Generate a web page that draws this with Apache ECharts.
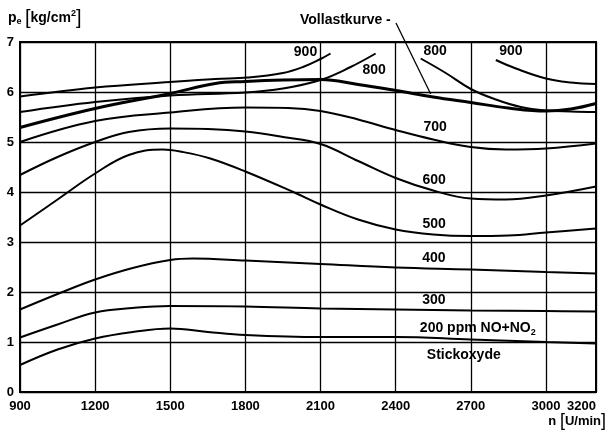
<!DOCTYPE html>
<html><head><meta charset="utf-8">
<script src="https://cdn.jsdelivr.net/npm/echarts@6/dist/echarts.min.js"></script>
<style>html,body{margin:0;padding:0;background:#fff}#c{width:609px;height:434px}</style>
</head><body><div id="c"></div>
<script>
// axis ticks
const rpmTicks = [900, 1200, 1500, 1800, 2100, 2400, 2700, 3000, 3200];
const pTicks = [0, 1, 2, 3, 4, 5, 6, 7];

// curves of constant NOx concentration [rpm, pe]
const curve900a = [[900,5.91],[1200,6.09],[1500,6.2],[1680,6.26],[1810,6.29],[1950,6.38],[2030,6.5],[2100,6.66],[2140,6.77]];
const curve900b = [[2800,6.64],[2880,6.47],[3000,6.27],[3100,6.19],[3200,6.16]];
const curve800a = [[900,5.6],[1200,5.8],[1500,5.93],[1800,5.99],[1950,6.07],[2100,6.24],[2220,6.5],[2320,6.77]];
const curve800b = [[2500,6.67],[2600,6.38],[2700,6.06],[2800,5.85],[2900,5.7],[3000,5.63],[3100,5.61],[3200,5.6]];
const vollast   = [[900,5.29],[1200,5.67],[1500,5.97],[1680,6.17],[1800,6.21],[1950,6.24],[2100,6.25],[2250,6.15],[2400,6.03],[2550,5.9],[2700,5.79],[2850,5.68],[3000,5.62],[3100,5.66],[3200,5.77]];
const curve700  = [[900,5.0],[1200,5.42],[1500,5.59],[1800,5.69],[1970,5.68],[2100,5.62],[2250,5.45],[2400,5.24],[2550,5.05],[2700,4.9],[2840,4.85],[3000,4.87],[3200,4.97]];
const curve600  = [[900,4.34],[1050,4.7],[1200,5.0],[1334,5.2],[1500,5.27],[1650,5.26],[1800,5.21],[1950,5.1],[2100,4.96],[2250,4.62],[2400,4.28],[2550,4.03],[2700,3.87],[2840,3.85],[3000,3.93],[3200,4.11]];
const curve500  = [[900,3.33],[1050,3.85],[1200,4.37],[1334,4.74],[1470,4.85],[1550,4.8],[1660,4.67],[1800,4.41],[2000,3.98],[2100,3.75],[2250,3.45],[2400,3.25],[2550,3.15],[2700,3.12],[2850,3.13],[3000,3.19],[3200,3.27]];
const curve400  = [[900,1.65],[1050,1.96],[1200,2.25],[1350,2.48],[1500,2.64],[1590,2.67],[1800,2.63],[2100,2.56],[2400,2.49],[2700,2.45],[3000,2.4],[3200,2.37]];
const curve300  = [[900,1.09],[1050,1.35],[1200,1.59],[1350,1.68],[1500,1.72],[1800,1.71],[2100,1.67],[2400,1.65],[2700,1.63],[3000,1.62],[3200,1.61]];
const curve200  = [[900,0.54],[1050,0.85],[1200,1.07],[1350,1.2],[1500,1.27],[1650,1.2],[1800,1.14],[2100,1.1],[2400,1.1],[2700,1.05],[3000,1.0],[3200,0.97]];

const FONT = 'Liberation Sans, Arial, sans-serif';
const chart = echarts.init(document.getElementById('c'), null, {renderer: 'canvas'});

function curve(name, data, width) {
  return {
    type: 'line', name: name, data: data, smooth: 0.4,
    symbol: 'none', silent: true, animation: false, z: 3, clip: false,
    lineStyle: {color: '#000', width: width || 2}
  };
}
function tag(text, x, y) {
  return {name: text, coord: [x, y]};
}
const tagStyle = {
  symbol: 'rect', symbolSize: 1, silent: true, animation: false,
  itemStyle: {color: 'rgba(0,0,0,0)'},
  label: {
    show: true, position: 'inside', formatter: '{b}', color: '#000',
    fontFamily: FONT, fontWeight: 'bold', fontSize: 14
  }
};

const sVoll = curve('Vollastkurve', vollast, 3);
sVoll.markLine = {
  silent: true, animation: false, symbol: ['none', 'arrow'], symbolSize: [0, 8],
  label: {show: false},
  lineStyle: {color: '#000', width: 1.3, type: 'solid'},
  data: [[{x: 396, y: 23}, {coord: [2540, 5.96]}]]
};
const sLabels = curve('labels', curve200, 2);
sLabels.markPoint = Object.assign({}, tagStyle, {
  data: [
    tag('900', 2040, 6.8), tag('800', 2314, 6.44), tag('800', 2558, 6.82), tag('900', 2860, 6.82),
    tag('700', 2558, 5.29), tag('600', 2554, 4.24), tag('500', 2554, 3.35),
    tag('400', 2553, 2.67), tag('300', 2553, 1.83), tag('Stickoxyde', 2672, 0.73),
    {name: '200 ppm NO+NO', coord: [2728, 1.27],
      label: {formatter: '{a|200 ppm NO+NO}{s|2}', rich: {
        a: {fontFamily: FONT, fontWeight: 'bold', fontSize: 14, color: '#000'},
        s: {fontFamily: FONT, fontWeight: 'bold', fontSize: 9, color: '#000', padding: [8, 0, 0, 0]}
      }}}
  ]
});

chart.setOption({
  backgroundColor: '#fff',
  animation: false,
  grid: {left: 20, right: 13, top: 42, bottom: 42, show: true, borderColor: '#000', borderWidth: 2},
  xAxis: {
    type: 'value', min: rpmTicks[0], max: rpmTicks[rpmTicks.length - 1], interval: 300,
    axisLine: {show: false}, axisTick: {show: false},
    splitLine: {show: true, lineStyle: {color: '#000', width: 1.3}},
    axisLabel: {color: '#000', fontFamily: FONT, fontWeight: 'bold', fontSize: 13, margin: 8,
      formatter: function (v) { return String(v); },
      customValues: rpmTicks, alignMaxLabel: 'right'}
  },
  yAxis: {
    type: 'value', min: pTicks[0], max: pTicks[pTicks.length - 1], interval: 1,
    axisLine: {show: false}, axisTick: {show: false},
    splitLine: {show: true, lineStyle: {color: '#000', width: 1.3}},
    axisLabel: {color: '#000', fontFamily: FONT, fontWeight: 'bold', fontSize: 13, margin: 6}
  },
  graphic: [
    {type: 'text', left: 8, top: 8, silent: true, style: {
      text: '{p|p}{e|e} {br|[}{t|kg/cm}{sup|2}{br|]}',
      rich: {
        p: {fontFamily: FONT, fontWeight: 'bold', fontSize: 14, fill: '#000'},
        e: {fontFamily: FONT, fontWeight: 'bold', fontSize: 9, fill: '#000', padding: [8, 0, 0, 0]},
        br: {fontFamily: FONT, fontSize: 20, fill: '#000'},
        t: {fontFamily: FONT, fontWeight: 'bold', fontSize: 14, fill: '#000'},
        sup: {fontFamily: FONT, fontWeight: 'bold', fontSize: 9, fill: '#000', padding: [0, 0, 8, 0]}
      }
    }},
    {type: 'text', left: 300, top: 13, silent: true, style: {
      text: 'Vollastkurve -', fontFamily: FONT, fontWeight: 'bold', fontSize: 14, fill: '#000'
    }},
    {type: 'text', right: 3, top: 412, silent: true, style: {
      text: '{t|n }{br|[}{t|U/min}{br|]}',
      rich: {
        t: {fontFamily: FONT, fontWeight: 'bold', fontSize: 13, fill: '#000'},
        br: {fontFamily: FONT, fontSize: 18, fill: '#000'}
      }
    }}
  ],
  series: [
    curve('900a', curve900a), curve('900b', curve900b),
    curve('800a', curve800a), curve('800b', curve800b),
    sVoll,
    curve('700', curve700), curve('600', curve600), curve('500', curve500),
    curve('400', curve400), curve('300', curve300), sLabels
  ]
});
</script>
</body></html>
